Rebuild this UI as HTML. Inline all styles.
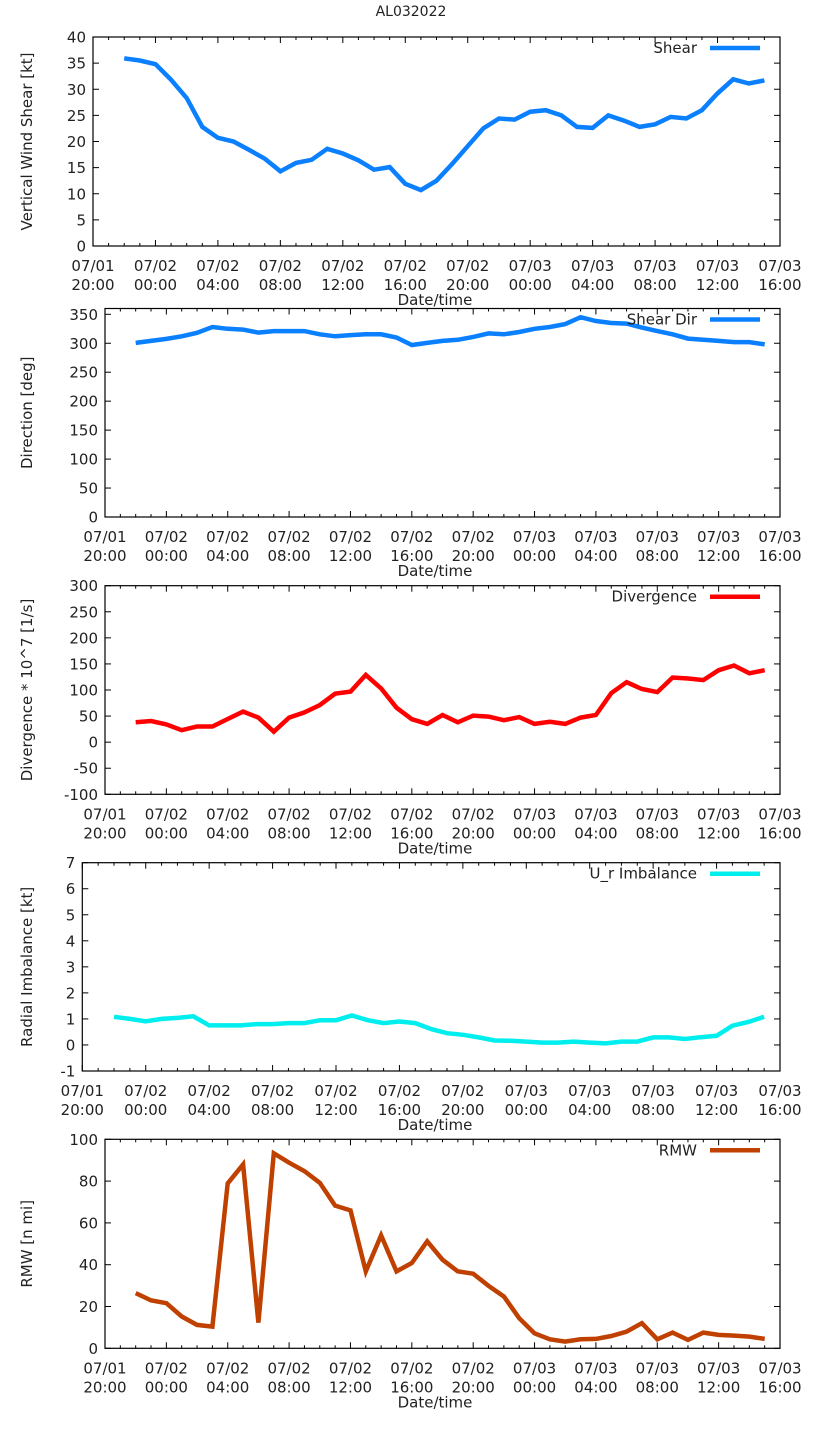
<!DOCTYPE html>
<html><head><meta charset="utf-8"><style>
html,body{margin:0;padding:0;background:#fff;}
svg{display:block;font-family:"DejaVu Sans","Liberation Sans",sans-serif;}
</style></head><body>
<svg id="chart" width="823" height="1439" viewBox="0 0 823 1439" xmlns="http://www.w3.org/2000/svg">
<text x="411" y="16" font-size="14" text-anchor="middle" fill="#222">AL032022</text>
</svg>
<script>
// hours since 07/01 20:00
const hours=[2,3,4,5,6,7,8,9,10,11,12,13,14,15,16,17,18,19,20,21,22,23,24,25,26,27,28,29,30,31,32,33,34,35,36,37,38,39,40,41,42,43];
const shear=[35.9,35.5,34.8,31.8,28.3,22.8,20.7,20.0,18.4,16.7,14.3,15.9,16.5,18.6,17.7,16.4,14.6,15.1,11.9,10.7,12.5,15.7,19.1,22.5,24.4,24.2,25.7,26.0,25.0,22.8,22.6,25.0,24.0,22.8,23.3,24.7,24.4,26.0,29.2,31.9,31.1,31.7];
const shearDir=[300.6,304,307.5,312,318,328,325,323.6,318.4,321,321,321,315.5,312,314,315.5,315.5,310,297,300.6,304,306,311,317,315.5,319.5,325,328,333,345,338.5,335,334,327,321,315.5,308,306,304,302,302,298];
const divergence=[38,40.6,34,23,30,30,44.4,58.5,47,20,47,57,71,93,97,129,103,66,44,35,52,38,51,49,42,48,35,39,35,47,52,94,115,102,96,124,122,119,138,147,132,138];
const imbalance=[1.08,1.0,0.91,1.0,1.04,1.1,0.75,0.75,0.75,0.8,0.8,0.84,0.84,0.95,0.95,1.13,0.95,0.84,0.9,0.84,0.61,0.45,0.39,0.29,0.17,0.16,0.13,0.09,0.09,0.13,0.09,0.06,0.13,0.13,0.29,0.29,0.23,0.3,0.35,0.74,0.88,1.08];
const rmw=[26.4,22.9,21.6,15.2,11.2,10.4,78.9,88,12.3,93.3,88.8,84.8,79.2,68.3,66,36.8,54,36.8,40.8,51.2,42.4,36.8,35.7,29.9,24.8,14.4,7.2,4.3,3.2,4.3,4.5,5.9,8,12,4.3,7.5,4,7.5,6.4,6.1,5.6,4.5];
const xTickDates=["07/01","07/02","07/02","07/02","07/02","07/02","07/02","07/03","07/03","07/03","07/03","07/03"];
const xTickTimes=["20:00","00:00","04:00","08:00","12:00","16:00","20:00","00:00","04:00","08:00","12:00","16:00"];

const NS="http://www.w3.org/2000/svg";
const svg=document.getElementById('chart');
function mk(tag,attrs,parent){const e=document.createElementNS(NS,tag);for(const k in attrs)e.setAttribute(k,attrs[k]);(parent||svg).appendChild(e);return e;}

const panels=[
 {key:'shear',data:shear,L:93,R:780,T:37,B:246,ymin:0,ymax:40,step:5,ytitle:'Vertical Wind Shear [kt]',legend:'Shear',color:'#0a80ff'},
 {key:'shear-dir',data:shearDir,L:105,R:780,T:308.5,B:517,ymin:0,ymax:360,step:50,ytop:350,ytitle:'Direction [deg]',legend:'Shear Dir',color:'#0a80ff'},
 {key:'divergence',data:divergence,L:105,R:780,T:585.7,B:794.3,ymin:-100,ymax:300,step:50,ytitle:'Divergence * 10^7 [1/s]',legend:'Divergence',color:'#ff0000'},
 {key:'imbalance',data:imbalance,L:82.3,R:780,T:862.7,B:1071,ymin:-1,ymax:7,step:1,ytitle:'Radial Imbalance [kt]',legend:'U_r Imbalance',color:'#00eeee'},
 {key:'rmw',data:rmw,L:105,R:780,T:1139.3,B:1348.3,ymin:0,ymax:100,step:20,ytitle:'RMW [n mi]',legend:'RMW',color:'#c04000'}
];

panels.forEach(p=>{
 const g=mk('g',{});
 
 
 const xs=h=>p.L+(p.R-p.L)*h/44;
 const ys=v=>p.B-(p.B-p.T)*(v-p.ymin)/(p.ymax-p.ymin);
 for(let h=0;h<=44;h++){
   const major=h%4===0, len=major?6:3, x=xs(h);
   const t1=mk('line',{x1:x,x2:x,y1:p.B,y2:p.B-len,stroke:'#000','stroke-width':1},g);
   
   
   const t2=mk('line',{x1:x,x2:x,y1:p.T,y2:p.T+len,stroke:'#000','stroke-width':1},g);
   
   
 }
 xTickDates.forEach((d,i)=>{
   const x=xs(i*4);
   const t=mk('text',{x:x,y:p.B+25,'font-size':15,'text-anchor':'middle',fill:'#222'},g);
   
   
   t.textContent=d;
   const t2=mk('text',{x:x,y:p.B+44,'font-size':15,'text-anchor':'middle',fill:'#222'},g);
   
   
   t2.textContent=xTickTimes[i];
 });
 const xt=mk('text',{x:435,y:p.B+59,'font-size':15,'text-anchor':'middle',fill:'#222'},g);
 
 
 xt.textContent='Date/time';
 const ytop=p.ytop!==undefined?p.ytop:p.ymax;
 for(let v=p.ymin;v<=ytop+1e-9;v+=p.step){
   const y=ys(v);
   const a=mk('line',{x1:p.L,x2:p.L+6,y1:y,y2:y,stroke:'#000','stroke-width':1},g);
   
   
   const b=mk('line',{x1:p.R,x2:p.R-6,y1:y,y2:y,stroke:'#000','stroke-width':1},g);
   
   
   const t=mk('text',{x:p.L-7,y:y+5.5,'font-size':15,'text-anchor':'end',fill:'#222'},g);
   
   
   t.textContent=String(Math.round(v));
 }
 const yt=mk('text',{x:0,y:0,'font-size':15,'text-anchor':'middle',fill:'#222',transform:`translate(32,${(p.T+p.B)/2}) rotate(-90)`},g);
 
 
 yt.textContent=p.ytitle;
 const fr=mk('rect',{x:p.L,y:p.T,width:p.R-p.L,height:p.B-p.T,fill:'none',stroke:'#000','stroke-width':1.2},g);
 
 
 const pts=p.data.map((v,i)=>xs(hours[i]).toFixed(1)+','+ys(v).toFixed(1)).join(' ');
 const pl=mk('polyline',{points:pts,fill:'none',stroke:p.color,'stroke-width':4.5,'stroke-linejoin':'miter'},g);
 
 
 const lt=mk('text',{x:697,y:p.T+16,'font-size':15,'text-anchor':'end',fill:'#222'},g);
 
 
 lt.textContent=p.legend;
 const ll=mk('line',{x1:710,x2:760,y1:p.T+11,y2:p.T+11,stroke:p.color,'stroke-width':4.5},g);
 
 
});
</script>
</body></html>
